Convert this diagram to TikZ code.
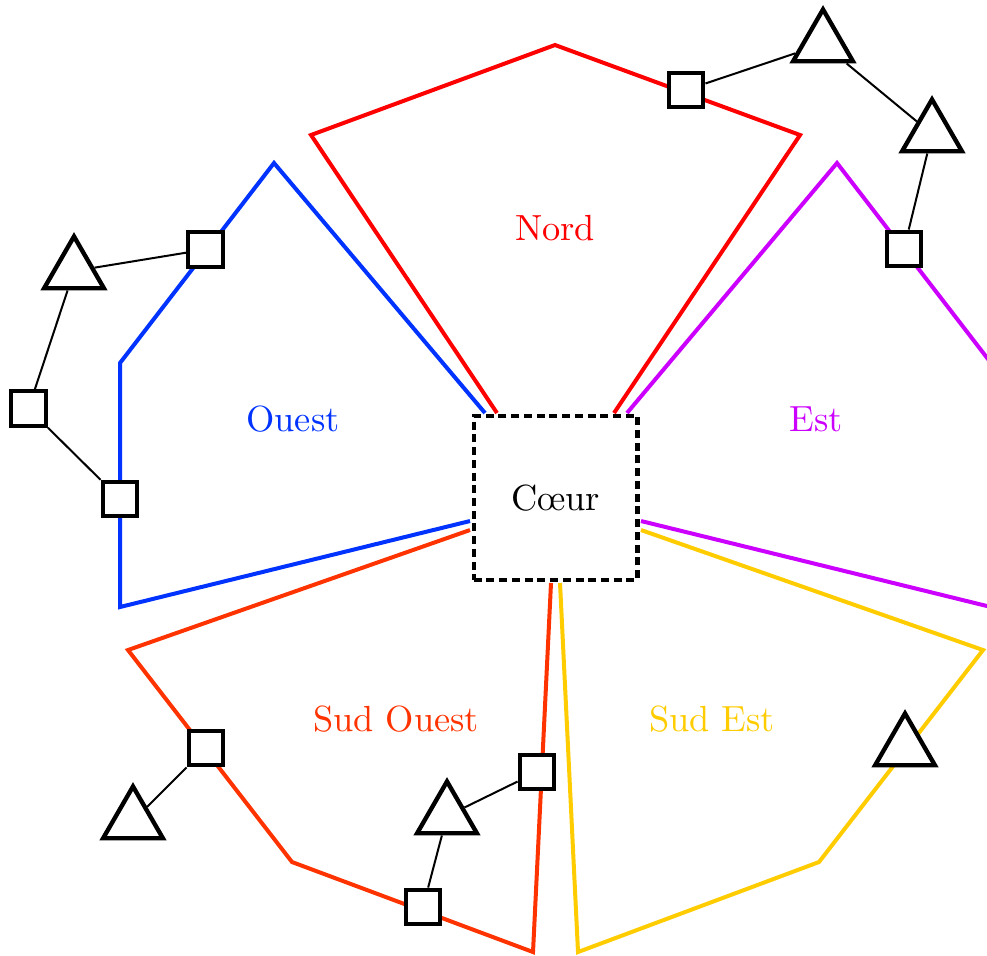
\documentclass[tikz,border=0pt]{standalone}
\usetikzlibrary{shapes.geometric}
\definecolor{cnord}{RGB}{255,0,0}
\definecolor{couest}{RGB}{0,51,255}
\definecolor{cest}{RGB}{204,0,255}
\definecolor{cso}{RGB}{255,51,0}
\definecolor{cse}{RGB}{255,204,0}
\tikzset{
  zone/.style={line width=1.1pt, line join=miter},
  sq/.style={draw, fill=white, line width=1.2pt, minimum size=9.5pt, inner sep=0pt, rectangle},
  tri/.style={draw, fill=white, line width=1.2pt, regular polygon, regular polygon sides=3, minimum size=19pt, inner sep=0pt},
  link/.style={line width=0.55pt},
  coeur/.style={draw, dashed, dash pattern=on 2.2pt off 1.3pt, line width=1.2pt, minimum size=45pt, inner sep=0pt},
  lbl/.style={font=\normalsize}
}
\begin{document}
\begin{tikzpicture}[x=0.275pt, y=-0.275pt]
\clip (0,0) rectangle (987,955);
% zones
\draw[zone, cnord] (497,413) -- (311,135) -- (555,45) -- (800,135) -- (614,413);
\draw[zone, couest] (485,413) -- (274,163) -- (120,363) -- (120,607) -- (470,521);
\draw[zone, cest] (627,413) -- (837,163) -- (991,363) -- (991,607) -- (641,521);
\draw[zone, cso] (470,530) -- (128,650) -- (292,862) -- (533,952) -- (551,583);
\draw[zone, cse] (560,583) -- (578,952) -- (819,862) -- (983,650) -- (641,530);
% centre
\node[coeur] (c) at (555.5,498) {C\oe ur};
% labels
\node[lbl, text=cnord] (lnord) at (555,228) {Nord};
\node[lbl, text=couest] (louest) at (293,419) {Ouest};
\node[lbl, text=cest] (lest) at (816,419) {Est};
\node[lbl, text=cso] (lso) at (396,719) {Sud Ouest};
\node[lbl, text=cse] (lse) at (712,719) {Sud Est};
% Nord / Est chain
\node[sq] (n1) at (686,90) {};
\node[tri] (n2) at (823,44) {};
\node[tri] (n3) at (932,134) {};
\node[sq] (n4) at (904,249) {};
\draw[link] (n1) -- (n2);
\draw[link] (n2) -- (n3);
\draw[link] (n3) -- (n4);
% Ouest chain
\node[sq] (o1) at (205.5,249.5) {};
\node[tri] (o2) at (74,271) {};
\node[sq] (o3) at (28.5,408.5) {};
\node[sq] (o4) at (120,499) {};
\draw[link] (o1) -- (o2);
\draw[link] (o2) -- (o3);
\draw[link] (o3) -- (o4);
% Sud Ouest
\node[sq] (s1) at (206,748) {};
\node[tri] (s2) at (133,821) {};
\draw[link] (s1) -- (s2);
\node[sq] (s3) at (537,772) {};
\node[tri] (s4) at (447,816) {};
\node[sq] (s5) at (423,907) {};
\draw[link] (s3) -- (s4);
\draw[link] (s4) -- (s5);
% Sud Est
\node[tri] (e1) at (905,748) {};
\end{tikzpicture}
\end{document}
